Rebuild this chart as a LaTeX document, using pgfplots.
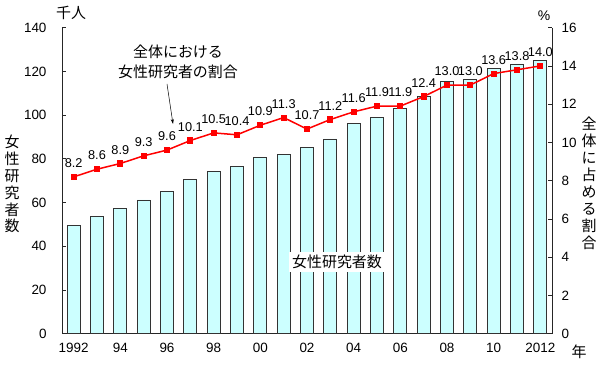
\documentclass[border=0pt]{standalone}
\usepackage{pgfplots}
\pgfplotsset{compat=1.18}
\usepackage{pgfplotstable}
\usepackage{fontspec}
\setmainfont{Liberation Sans}
\newfontfamily\cjk{Noto Sans CJK JP}
\usetikzlibrary{arrows.meta}
\definecolor{barfill}{HTML}{CCFFFF}
\definecolor{baredge}{HTML}{333333}

\pgfplotstableread{
year women ratio
1992 49.4 8.2
1993 53.8 8.6
1994 57.4 8.9
1995 61.2 9.3
1996 65.0 9.6
1997 70.7 10.1
1998 74.4 10.5
1999 76.7 10.4
2000 80.8 10.9
2001 82.2 11.3
2002 85.4 10.7
2003 89.1 11.2
2004 96.2 11.6
2005 99.0 11.9
2006 103.1 11.9
2007 108.6 12.4
2008 115.3 13.0
2009 116.2 13.0
2010 121.2 13.6
2011 123.4 13.8
2012 124.9 14.0
}\data

\begin{document}
\begin{tikzpicture}
\path[use as bounding box] (0bp,0bp) rectangle (600bp,371bp);
\begin{axis}[
  at={(62bp,37.3bp)}, anchor=south west,
  scale only axis, width=490bp, height=306bp,
  xmin=1991.5, xmax=2012.5, ymin=0, ymax=140,
  axis x line*=bottom, axis y line*=left,
  axis line style={black!85, line width=0.8bp},
  tick align=inside,
  ytick={0,20,...,140},
  xtick={1992,1994,...,2012},
  xticklabels={1992,94,96,98,00,02,04,06,08,10,2012},
  xtick style={draw=none},
  ytick style={black!85, line width=0.8bp},
  major tick length=4bp,
  /pgf/number format/assume math mode=true,
  tick label style={font=\fontsize{13.5}{13.5}\selectfont},
  yticklabel style={xshift=-12bp},
  xticklabel style={yshift=-6bp},
]
\addplot[ybar, bar width=13bp, fill=barfill, draw=baredge, line width=0.8bp]
  table[x=year, y=women] {\data};
\end{axis}
\begin{axis}[
  at={(62bp,37.3bp)}, anchor=south west,
  scale only axis, width=490bp, height=306bp,
  xmin=1991.5, xmax=2012.5, ymin=0, ymax=16,
  axis x line=none, axis y line*=right,
  axis line style={black!85, line width=0.8bp},
  tick align=inside,
  ytick={0,2,...,16},
  ytick style={black!85, line width=0.8bp},
  major tick length=4bp,
  /pgf/number format/assume math mode=true,
  tick label style={font=\fontsize{13.5}{13.5}\selectfont},
  yticklabel style={xshift=6bp},
  clip=false,
]
\addplot[red, line width=1.5bp, mark=square*, mark size=2.3bp,
  mark options={fill=red, draw=red},
  nodes near coords, point meta=explicit symbolic,
  nodes near coords style={black, anchor=south, inner sep=0pt, yshift=8.5bp,
    font=\fontsize{12.8}{12.8}\selectfont}]
  table[x=year, y=ratio, meta=ratio] {\data};
\end{axis}
% annotations
\node[font=\cjk\fontsize{15}{15}\selectfont] at (71bp,358bp) {千人};
\node[font=\fontsize{14}{14}\selectfont] at (544bp,355bp) {\%};
\node[font=\cjk\fontsize{15}{15}\selectfont] at (579bp,19.3bp) {年};
\node[font=\cjk\fontsize{15}{17}\selectfont, align=center] at (12bp,187bp)
  {女\\性\\研\\究\\者\\数};
\node[font=\cjk\fontsize{15}{17.1}\selectfont, align=center] at (589bp,187.7bp)
  {全\\体\\に\\占\\め\\る\\割\\合};
\node[font=\cjk\fontsize{15}{20}\selectfont, align=center] at (178bp,309bp)
  {全体における\\女性研究者の割合};
\draw[-{Stealth[length=5bp,width=3bp]}, line width=0.5bp] (167bp,287bp) -- (173bp,247bp);
\node[fill=white, inner sep=3.5bp, font=\cjk\fontsize{15}{15}\selectfont] at (337bp,109bp) {女性研究者数};
\end{tikzpicture}
\end{document}
